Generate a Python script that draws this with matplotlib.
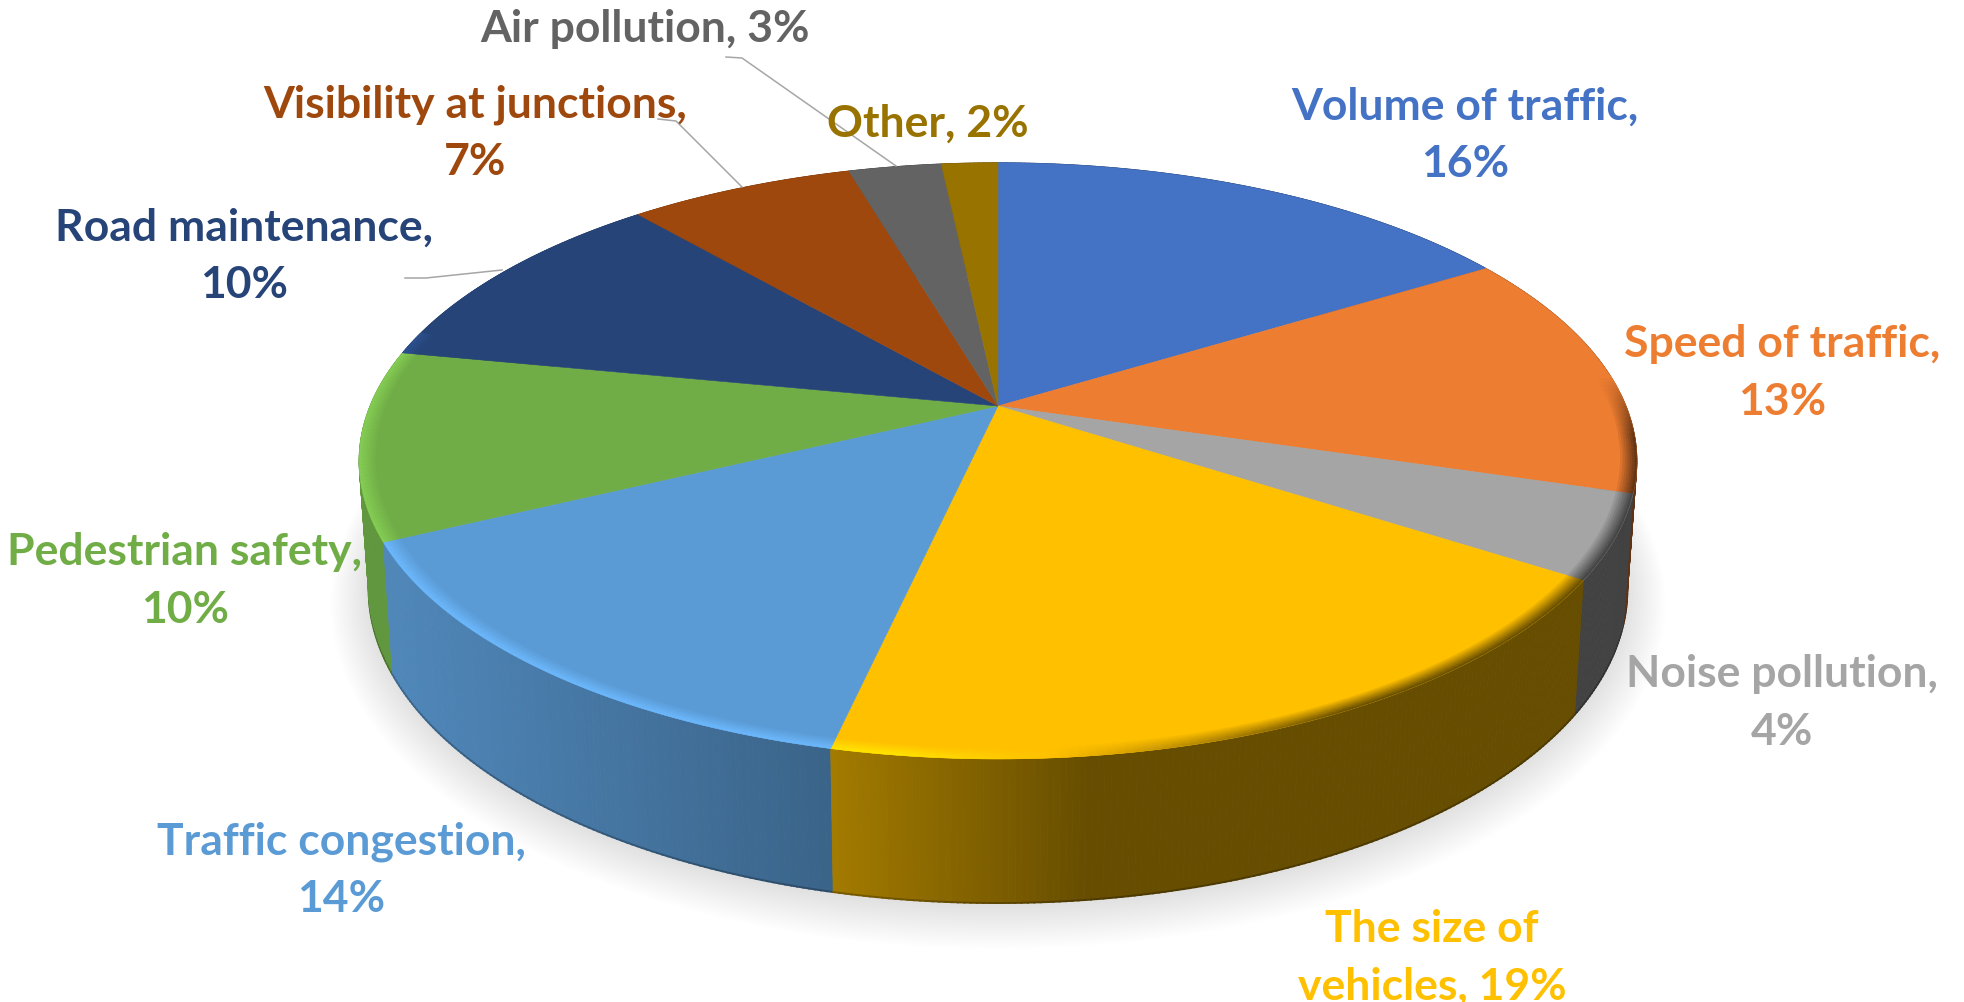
import numpy as np
import matplotlib
matplotlib.use('Agg')
import matplotlib.pyplot as plt
from matplotlib.colors import to_rgb

categories = ['Volume of traffic', 'Speed of traffic', 'Noise pollution', 'The size of vehicles',
              'Traffic congestion', 'Pedestrian safety', 'Road maintenance',
              'Visibility at junctions', 'Air pollution', 'Other']
# a bit finer than the rounded labels
values = [16.2, 13.4, 4.5, 19.3, 14.3, 10.2, 10.6, 6.8, 2.8, 1.7]
colors = ['#4472C4', '#ED7D31', '#A5A5A5', '#FFC000', '#5B9BD5',
          '#70AD47', '#264478', '#9E480E', '#636363', '#997300']
label_text = ['Volume of traffic,\n16%', 'Speed of traffic,\n13%', 'Noise pollution,\n4%',
              'The size of\nvehicles, 19%', 'Traffic congestion,\n14%', 'Pedestrian safety,\n10%',
              'Road maintenance,\n10%', 'Visibility at junctions,\n7%', 'Air pollution, 3%', 'Other, 2%']
label_x = [1465, 1782, 1782, 1432, 341, 185, 244, 475, 645, 928]
label_y = [135, 373, 703, 958, 870, 581, 256, 133, 29, 124]

# pie geometry in pixels, apex is not the middle of the ellipse (perspective)
cx, cy = 998, 407
R, H, k = 628, 288, 0.184
depth, bot_x, bot_y = 125, 0.985, 0.054

W_PX, H_PX = 1964, 1003
fig = plt.figure(figsize=(W_PX / 100, H_PX / 100), dpi=100)
ax = fig.add_axes([0, 0, 1, 1])
ax.set_xlim(0, W_PX)
ax.set_ylim(H_PX, 0)
ax.axis('off')


def top_pt(a, r=1.0):
    u, v = r * np.sin(a), -r * np.cos(a)
    s = 1 / (1 - k * v)
    return cx + R * u * s, cy + H * v * s


def bot_pt(a):
    x, y = top_pt(a)
    return cx + bot_x * (x - cx), y + depth + bot_y * (y - cy)


def shade(c, f):
    return tuple(np.clip(np.array(to_rgb(c)) * f, 0, 1))


def mix(c1, c2, t):
    return tuple(np.array(c1) * (1 - t) + np.array(c2) * t)


edges = np.cumsum([0] + values) / sum(values) * 2 * np.pi

# soft shadow under the disc
full = np.linspace(0, 2 * np.pi, 300)
bx, by = bot_pt(full)
for i in range(30):
    g = 1 + 0.0021 * i
    ax.fill(cx + (bx - cx) * g, by.mean() + (by - by.mean()) * (g + 0.0012 * i) + 3 + 0.35 * i,
            color='k', alpha=0.0055, lw=0, zorder=1)

# side wall, thin strips back to front
strips = []
for i in range(len(values)):
    n = max(int((edges[i + 1] - edges[i]) * 120), 3)
    aa = np.linspace(edges[i], edges[i + 1], n + 1)
    for a0, a1 in zip(aa[:-1], aa[1:]):
        strips.append((-np.cos((a0 + a1) / 2), a0, a1, colors[i]))
strips.sort(key=lambda s: s[0])
for _, a0, a1, c in strips:
    x0, y0 = top_pt(a0)
    x1, y1 = top_pt(a1)
    x2, y2 = bot_pt(a1)
    x3, y3 = bot_pt(a0)
    f = np.interp((x0 + x1 + x2 + x3) / 4, [400, 833, 1090], [0.87, 0.64, 0.40])
    ax.fill([x0, x1, x2, x3], [y0, y1, y2, y3], color=shade(c, f), lw=0.6, zorder=2)
    if -np.cos((a0 + a1) / 2) > 0:
        ax.plot([x3, x2], [y3, y2], color=shade(c, f * 0.75), lw=1.4, zorder=2)

# top face
for i in range(len(values)):
    aa = np.linspace(edges[i], edges[i + 1], 120)
    x, y = top_pt(aa)
    ax.fill(np.r_[cx, x], np.r_[cy, y], color=colors[i], lw=0.4, zorder=4)

# bevel along the front rim
bands = np.linspace(0.975, 1.0, 8)
for i in range(len(values)):
    n = max(int((edges[i + 1] - edges[i]) * 80), 3)
    aa = np.linspace(edges[i], edges[i + 1], n + 1)
    for a0, a1 in zip(aa[:-1], aa[1:]):
        am = np.degrees((a0 + a1) / 2)
        if am < 84 or am > 285:
            continue
        xm, _ = top_pt((a0 + a1) / 2)
        rf = np.interp(xm, [400, 900, 1050, 1350], [1.18, 1.18, 1.0, 0.42])
        fade = min(1, (am - 84) / 12)   # dark edge comes in slowly on the right
        for j in range(len(bands) - 1):
            t = (j + 1) / (len(bands) - 1) * fade
            c = mix(to_rgb(colors[i]), shade(colors[i], rf), t)
            x0, y0 = top_pt(a0, bands[j])
            x1, y1 = top_pt(a1, bands[j])
            x2, y2 = top_pt(a1, bands[j + 1])
            x3, y3 = top_pt(a0, bands[j + 1])
            ax.fill([x0, x1, x2, x3], [y0, y1, y2, y3], color=c, lw=0.3, zorder=5)

# leader lines
leaders = [([726, 742, 896], [58, 59, 167]),
           ([658, 676, 742], [120, 122, 188]),
           ([405, 426, 502], [279, 279, 271])]
for lx, ly in leaders:
    ax.plot(lx, ly, color='#A6A6A6', lw=1.1, zorder=6)

for i in range(len(categories)):
    ax.text(label_x[i], label_y[i], label_text[i], color=colors[i], fontsize=32, family='Lato',
            fontweight='bold', ha='center', va='center', multialignment='center',
            linespacing=1.52, zorder=7)

fig.savefig('out.png', dpi=100, facecolor='white')
